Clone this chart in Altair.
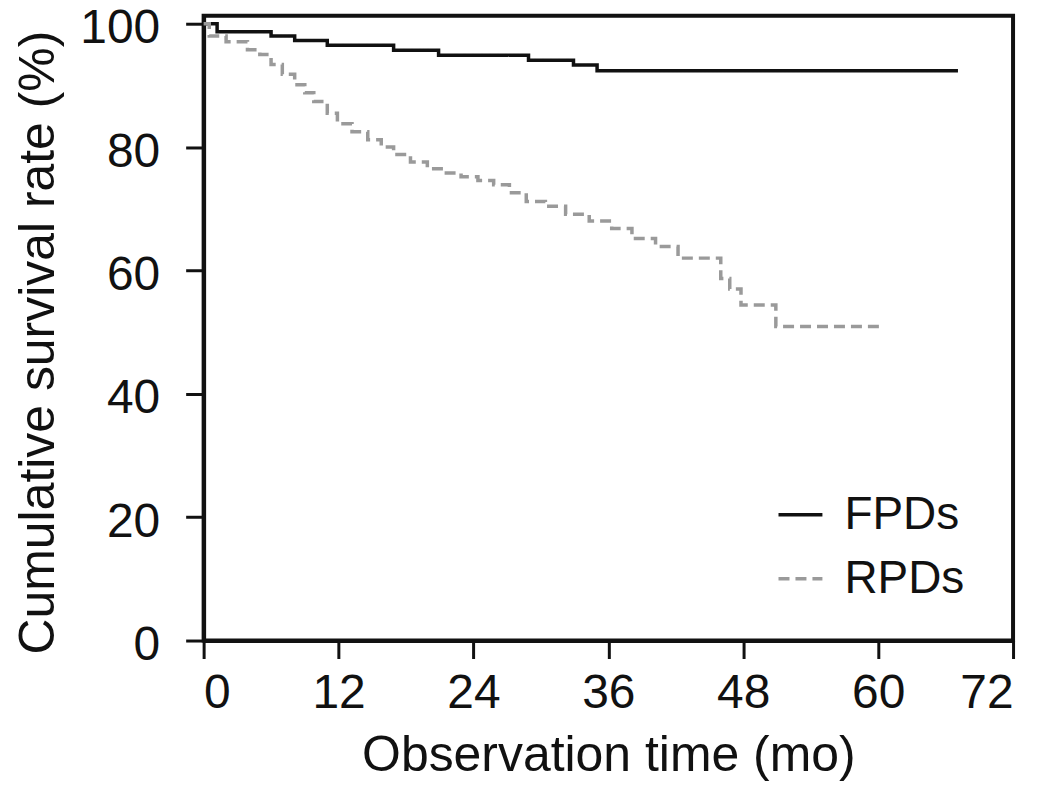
import altair as alt
import pandas as pd

# FPDs Kaplan-Meier steps (months, %)
fpd_t = [0, 1.2, 6.0, 8.1, 11.0, 16.9, 20.9, 28.9, 32.9, 35.0, 67.1]
fpd_s = [100, 98.7, 98.0, 97.3, 96.5, 95.7, 94.9, 94.1, 93.3, 92.4, 92.4]

# RPDs Kaplan-Meier steps (months, %)
rpd_t = [0, 0.5, 2.0, 3.9, 5.0, 6.0, 7.0, 8.1, 9.0, 9.8, 11.0, 11.9, 13.2, 14.6,
         15.8, 16.9, 18.4, 19.9, 21.4, 22.9, 24.4, 25.8, 27.2, 28.7, 30.4, 32.2,
         34.3, 36.3, 38.1, 40.2, 42.2, 46.0, 46.8, 47.8, 50.9, 60.4]
rpd_s = [100, 98.0, 97.1, 95.8, 95.0, 93.4, 91.8, 90.1, 88.8, 87.4, 85.5, 83.8,
         82.5, 81.2, 80.0, 78.8, 77.6, 76.5, 75.8, 75.2, 74.6, 73.9, 72.6, 71.2,
         70.4, 69.1, 68.0, 66.8, 65.2, 63.9, 62.0, 58.7, 57.0, 54.4, 50.9, 50.9]

groups = ["FPDs", "RPDs"]
colors = ["#111111", "#9a9a9a"]
dashes = [[1, 0], [11, 6]]
x_ticks = [0, 12, 24, 36, 48, 60, 72]
y_ticks = [0, 20, 40, 60, 80, 100]

df = pd.concat([
    pd.DataFrame({"t": fpd_t, "s": fpd_s, "g": "FPDs"}),
    pd.DataFrame({"t": rpd_t, "s": rpd_s, "g": "RPDs"}),
])

FONT = "Liberation Sans"
INK = "#111111"

chart = alt.Chart(df).mark_line(interpolate="step-after", strokeWidth=3.5).encode(
    x=alt.X("t:Q", scale=alt.Scale(domain=[0, 72], nice=False),
            axis=alt.Axis(values=x_ticks, title="Observation time (mo)", grid=False,
                          labelPadding=11, titlePadding=13, labelFontSize=48,
                          titleFontSize=50)),
    y=alt.Y("s:Q", scale=alt.Scale(domain=[0, 101.3], nice=False),
            axis=alt.Axis(values=y_ticks, title="Cumulative survival rate (%)", grid=False,
                          labelPadding=26, titlePadding=16, labelFontSize=48,
                          labelOffset=5, titleFontSize=50, titleY=327)),
    color=alt.Color("g:N", scale=alt.Scale(domain=groups, range=colors),
                    legend=alt.Legend(title=None, orient="none", legendX=574, legendY=476)),
    strokeDash=alt.StrokeDash("g:N", scale=alt.Scale(domain=groups, range=dashes),
                              legend=alt.Legend(title=None, orient="none", legendX=574, legendY=476)),
).properties(
    width=811, height=626,
    autosize=alt.AutoSizeParams(type="none"),
    padding={"left": 196, "top": 7, "right": 25, "bottom": 141},
).configure_view(
    stroke=INK, strokeWidth=4
).configure_axis(
    domainColor=INK, domainWidth=4,
    tickColor=INK, tickWidth=3, tickSize=18,
    labelFont=FONT, labelColor=INK,
    titleFont=FONT, titleColor=INK, titleFontWeight="normal",
).configure_legend(
    symbolType="stroke", symbolSize=1936, symbolStrokeWidth=3.5,
    labelFont=FONT, labelFontSize=46, labelColor=INK,
    labelOffset=20, rowPadding=17,
)

chart.save("out.html", embed_options={"renderer": "svg", "actions": False})
